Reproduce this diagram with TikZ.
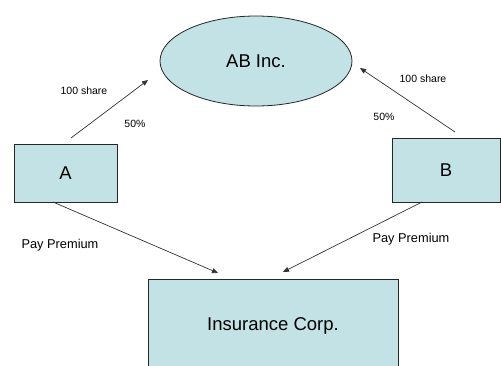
\documentclass[tikz,border=0pt]{standalone}
\usepackage{fontspec}
\setmainfont{Liberation Sans}
\usetikzlibrary{arrows.meta,shapes.geometric}
\definecolor{boxfill}{HTML}{C2E2E5}
\definecolor{edge}{HTML}{333333}
\tikzset{
  entity/.style={draw=black!85, line width=0.8pt, fill=boxfill, inner sep=0pt, font=\fontsize{18.5}{20}\selectfont},
  conn/.style={draw=edge, line width=0.7pt, -{Triangle[length=6pt,width=5pt]}},
  small/.style={font=\fontsize{10.5}{12}\selectfont, inner sep=0pt},
  medium/.style={font=\fontsize{12.8}{14}\selectfont, inner sep=0pt}
}
\begin{document}
\begin{tikzpicture}[x=1pt,y=-1pt]
\useasboundingbox (0,0) rectangle (501,365);
\begin{scope}
\clip (0,0) rectangle (501,365);
\node[entity, ellipse, minimum width=192pt, minimum height=90pt] (ab) at (256,61) {AB Inc.};
\node[entity, rectangle, minimum width=103pt, minimum height=58pt] (a) at (65.5,173) {A};
\node[entity, rectangle, minimum width=108pt, minimum height=64pt] (b) at (446,170) {B};
\node[entity, rectangle, minimum width=250pt, minimum height=94pt] (ins) at (273,326) {Insurance Corp.};
\end{scope}
\coordinate (a1) at (71,138);
\coordinate (ab1) at (148,80);
\coordinate (b1) at (455,132);
\coordinate (ab2) at (360,68);
\coordinate (a2) at (53,202);
\coordinate (ins1) at (218,273);
\coordinate (b2) at (422,202);
\coordinate (ins2) at (283,272);
\draw[conn] (a1) -- (ab1);
\draw[conn] (b1) -- (ab2);
\draw[conn] (a2) -- (ins1);
\draw[conn] (b2) -- (ins2);
\node[small] (l1) at (84,91) {100 share};
\node[small] (l2) at (135,124) {50\%};
\node[small] (l3) at (423,79) {100 share};
\node[small] (l4) at (384,117) {50\%};
\node[medium] (l5) at (60,245) {Pay Premium};
\node[medium] (l6) at (411,239) {Pay Premium};
\end{tikzpicture}
\end{document}
